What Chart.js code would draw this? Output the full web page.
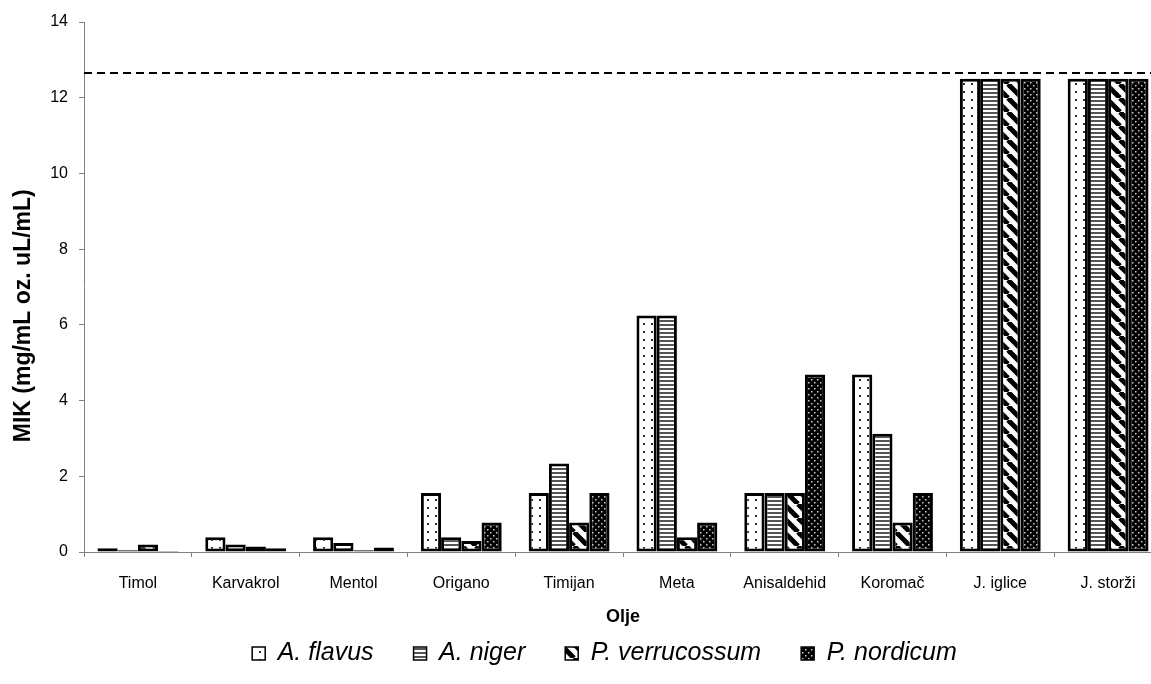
<!DOCTYPE html>
<html>
<head>
<meta charset="utf-8">
<script src="https://cdn.jsdelivr.net/npm/chart.js@4.4.1/dist/chart.umd.min.js"></script>
<style>
  html, body { margin: 0; padding: 0; background: #fff; overflow: hidden; }
  #wrap { width: 1165px; height: 684px; }
</style>
</head>
<body>
<div id="wrap"><canvas id="myChart" width="1165" height="684"></canvas></div>
<script>
// oils on the x axis
const olje = ['Timol', 'Karvakrol', 'Mentol', 'Origano', 'Timijan', 'Meta', 'Anisaldehid', 'Koromač', 'J. iglice', 'J. storži'];

// MIK values per fungus
const a_flavus      = [0.098, 0.39, 0.39, 1.56, 1.56, 6.25, 1.56, 4.69, 12.5, 12.5];
const a_niger       = [0.049, 0.195, 0.24, 0.39, 2.34, 6.25, 1.56, 3.125, 12.5, 12.5];
const p_verrucossum = [0.195, 0.146, 0.049, 0.29, 0.78, 0.39, 1.56, 0.78, 12.5, 12.5];
const p_nordicum    = [0.024, 0.098, 0.12, 0.78, 1.56, 0.78, 4.69, 1.56, 12.5, 12.5];

const y_ticks = [0, 2, 4, 6, 8, 10, 12, 14];
const limit_line = 12.65;   // dashed line above the top bars

Chart.defaults.font.family = '"Liberation Sans", Arial, sans-serif';
Chart.defaults.color = '#000';

const canvas = document.getElementById('myChart');
const ctx = canvas.getContext('2d');

// small tiles for the black and white fills
function make_pattern(w, h, draw) {
    let c = document.createElement('canvas');
    c.width = w;
    c.height = h;
    let g = c.getContext('2d');
    draw(g, w, h);
    return ctx.createPattern(c, 'repeat');
}

const dots_fill = make_pattern(8, 8, (g, w, h) => {
    g.fillStyle = '#fff';
    g.fillRect(0, 0, w, h);
    g.fillStyle = '#333';
    g.fillRect(3, 3, 2, 2);
});

const stripes_fill = make_pattern(4, 4, (g, w, h) => {
    g.fillStyle = '#fff';
    g.fillRect(0, 0, w, h);
    g.fillStyle = '#555';
    g.fillRect(0, 0, w, 2);
});

const diag_fill = make_pattern(14, 14, (g, w, h) => {
    g.fillStyle = '#fff';
    g.fillRect(0, 0, w, h);
    g.strokeStyle = '#000';
    g.lineWidth = 5;
    [-14, 0, 14].forEach(o => {
        g.beginPath();
        g.moveTo(o, 0);
        g.lineTo(o + 14, 14);
        g.stroke();
    });
});

const dark_dots_fill = make_pattern(6, 6, (g, w, h) => {
    g.fillStyle = '#000';
    g.fillRect(0, 0, w, h);
    g.fillStyle = '#ccc';
    g.fillRect(1, 1, 1.5, 1.5);
    g.fillRect(4, 4, 1.5, 1.5);
});

// dashed horizontal line across the plot
const limit_plugin = {
    id: 'limit_plugin',
    afterDatasetsDraw(chart) {
        const { ctx, chartArea, scales } = chart;
        const y = scales.y.getPixelForValue(limit_line);
        ctx.save();
        ctx.strokeStyle = '#000';
        ctx.lineWidth = 2;
        ctx.setLineDash([8, 5]);
        ctx.beginPath();
        ctx.moveTo(chartArea.left, y);
        ctx.lineTo(chartArea.right, y);
        ctx.stroke();
        ctx.restore();
    }
};

function bar_set(label, data, fill) {
    return {
        label: label,
        data: data,
        backgroundColor: fill,
        borderColor: '#000',
        borderWidth: 3,
        borderSkipped: false,
        categoryPercentage: 0.75,
        barPercentage: 1
    };
}

let chart_output = new Chart(ctx, {
    type: 'bar',
    data: {
        labels: olje,
        datasets: [
            bar_set('A. flavus', a_flavus, dots_fill),
            bar_set('A. niger', a_niger, stripes_fill),
            bar_set('P. verrucossum', p_verrucossum, diag_fill),
            bar_set('P. nordicum', p_nordicum, dark_dots_fill)
        ]
    },
    options: {
        responsive: false,
        animation: false,
        // left padding shifts the centred legend to the right, y axis width makes up for it
        layout: { padding: { top: 22, right: 3, left: 47, bottom: 8 } },
        plugins: {
            tooltip: { enabled: false },
            legend: {
                position: 'bottom',
                labels: {
                    color: '#000',
                    font: { size: 25, style: 'italic' },
                    boxWidth: 13,
                    boxHeight: 13,
                    padding: 40,
                    generateLabels: function(chart) {
                        let items = Chart.defaults.plugins.legend.labels.generateLabels(chart);
                        items.forEach(it => { it.lineWidth = 1.5; });
                        return items;
                    }
                }
            }
        },
        scales: {
            x: {
                grid: { drawOnChartArea: false, color: '#808080', tickLength: 5, offset: true },
                border: { color: '#808080' },
                ticks: { font: { size: 16 }, color: '#000', padding: 17, maxRotation: 0, autoSkip: false },
                title: {
                    display: true,
                    text: 'Olje',
                    color: '#000',
                    font: { size: 18, weight: 'bold' },
                    padding: { top: 0, bottom: -27 }
                },
                afterFit: function(scale) { scale.height = 49; }
            },
            y: {
                min: 0,
                max: 14,
                afterBuildTicks: function(scale) {
                    scale.ticks = y_ticks.map(v => ({ value: v }));
                },
                grid: { drawOnChartArea: false, color: '#808080', tickLength: 5 },
                border: { color: '#808080' },
                ticks: { font: { size: 16 }, color: '#000', padding: 11 },
                title: {
                    display: true,
                    // trailing spaces push the label down the axis like in the original
                    text: 'MIK (mg/mL oz. uL/mL)' + '\u00a0'.repeat(9),
                    color: '#000',
                    font: { size: 23, weight: 'bold' },
                    padding: { top: -37, bottom: 0 }
                },
                afterFit: function(scale) { scale.width = 37; }
            }
        }
    },
    plugins: [limit_plugin]
});
</script>
</body>
</html>
